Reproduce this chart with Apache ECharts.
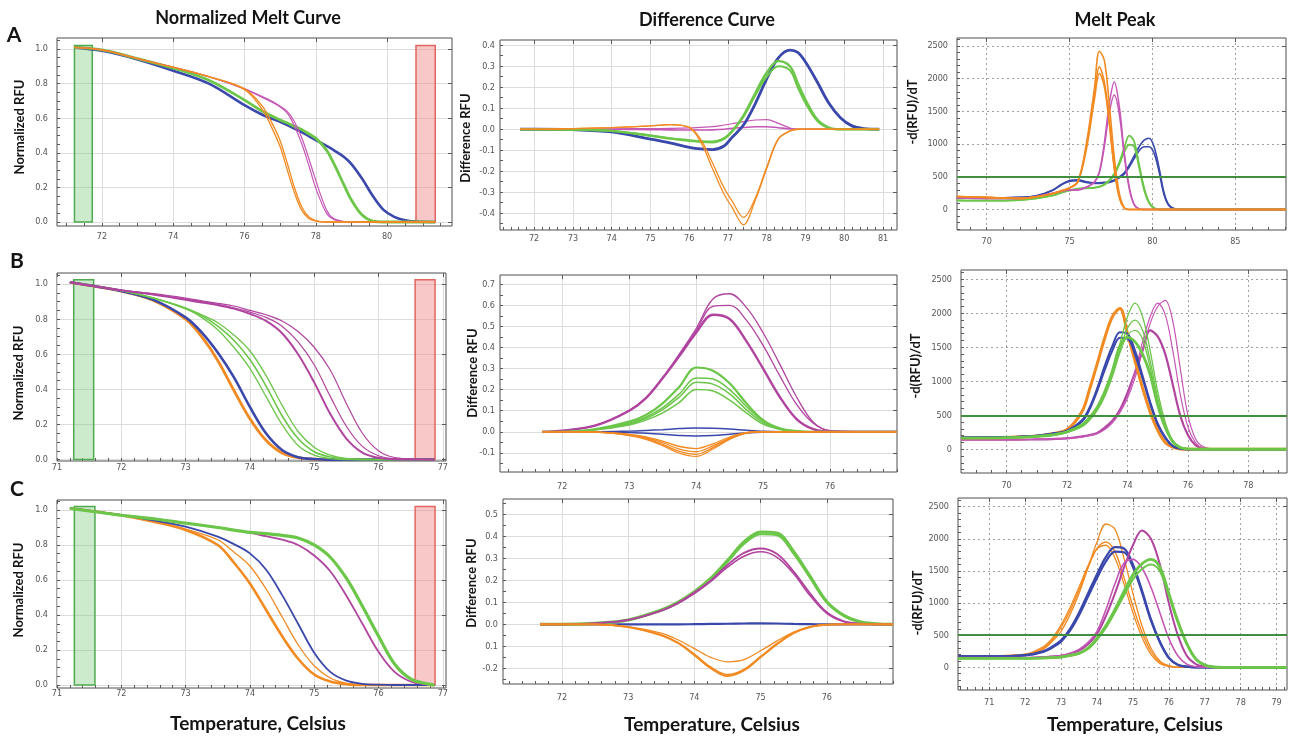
<!DOCTYPE html>
<html>
<head>
<meta charset="utf-8">
<title>Melt curves</title>
<script src="https://cdn.jsdelivr.net/npm/echarts@6.0.0/dist/echarts.min.js"></script>
<style>
  html, body { margin: 0; padding: 0; background: #fff; }
  #chart { width: 1290px; height: 738px; }
</style>
</head>
<body>
<div id="chart"></div>
<script>
// ---------- row A ----------
const a1Temp = [71.22, 72, 73, 74, 75, 76, 76.5, 76.8, 77, 77.2, 77.4, 77.6, 77.8, 78, 78.3, 78.5, 78.8, 79, 79.3, 79.6, 79.9, 80.2, 80.5, 80.8, 81.35];
const a1Orange1 = [1.01, 0.995, 0.945, 0.895, 0.84, 0.765, 0.65, 0.53, 0.435, 0.30, 0.17, 0.07, 0.02, 0.005, 0, 0, 0, 0, 0, 0, 0, 0, 0, 0, 0];
const a1Orange2 = [1.01, 0.995, 0.945, 0.895, 0.84, 0.77, 0.67, 0.56, 0.47, 0.34, 0.2, 0.09, 0.03, 0.008, 0, 0, 0, 0, 0, 0, 0, 0, 0, 0, 0];
const a1Magenta1 = [1.01, 0.995, 0.945, 0.895, 0.84, 0.77, 0.72, 0.69, 0.665, 0.63, 0.555, 0.455, 0.33, 0.195, 0.05, 0.015, 0, 0, 0, 0, 0, 0, 0, 0, 0];
const a1Magenta2 = [1.01, 0.995, 0.945, 0.895, 0.84, 0.77, 0.725, 0.695, 0.67, 0.64, 0.58, 0.49, 0.37, 0.24, 0.07, 0.02, 0.003, 0, 0, 0, 0, 0, 0, 0, 0];
const a1Green = [1.01, 0.995, 0.945, 0.89, 0.82, 0.705, 0.64, 0.61, 0.59, 0.572, 0.553, 0.535, 0.51, 0.485, 0.416, 0.34, 0.21, 0.127, 0.04, 0.005, 0, 0, 0, 0, 0];
const a1Blue = [1.01, 0.99, 0.94, 0.875, 0.80, 0.676, 0.62, 0.595, 0.58, 0.56, 0.54, 0.52, 0.497, 0.474, 0.44, 0.416, 0.375, 0.335, 0.25, 0.15, 0.07, 0.03, 0.01, 0.003, 0];
const a1Windows = [[71.23, 71.73], [80.81, 81.35]];

const a2Temp = [71.64, 72, 73, 74, 75, 75.5, 76, 76.3, 76.6, 76.9, 77.1, 77.4, 77.7, 78, 78.3, 78.6, 78.8, 79, 79.3, 79.6, 79.9, 80.2, 80.5, 80.9];
const a2Blue = [0, 0, -0.002, -0.013, -0.047, -0.065, -0.086, -0.094, -0.097, -0.08, -0.04, 0.02, 0.12, 0.24, 0.34, 0.377, 0.366, 0.32, 0.226, 0.125, 0.055, 0.016, 0.003, 0];
const a2Green1 = [0, 0, -0.002, -0.008, -0.031, -0.045, -0.055, -0.06, -0.062, -0.045, -0.012, 0.065, 0.17, 0.27, 0.325, 0.30, 0.22, 0.14, 0.047, 0.008, 0, 0, 0, 0];
const a2Green2 = [0, 0, -0.002, -0.008, -0.03, -0.043, -0.052, -0.057, -0.058, -0.042, -0.01, 0.06, 0.16, 0.25, 0.30, 0.28, 0.2, 0.125, 0.04, 0.006, 0, 0, 0, 0];
const a2Orange1 = [0, 0, 0.003, 0.008, 0.016, 0.022, 0.008, -0.062, -0.187, -0.31, -0.37, -0.455, -0.34, -0.187, -0.047, -0.008, 0, 0, 0, 0, 0, 0, 0, 0];
const a2Orange2 = [0, 0, 0.003, 0.008, 0.016, 0.022, 0.01, -0.05, -0.16, -0.28, -0.34, -0.42, -0.33, -0.18, -0.045, -0.008, 0, 0, 0, 0, 0, 0, 0, 0];
const a2Magenta1 = [0, 0, 0, 0.002, 0.003, 0.004, 0.006, 0.009, 0.012, 0.02, 0.026, 0.036, 0.044, 0.046, 0.028, 0.006, 0, 0, 0, 0, 0, 0, 0, 0];
const a2Magenta2 = [0, 0, 0, 0, -0.002, -0.003, -0.004, -0.004, -0.003, 0, 0.004, 0.008, 0.012, 0.012, 0.007, 0.002, 0, 0, 0, 0, 0, 0, 0, 0];

const a3Temp = [68.2, 70, 72, 73, 74, 74.5, 75, 75.5, 76, 76.5, 76.8, 77.1, 77.4, 77.7, 78, 78.3, 78.6, 78.9, 79.2, 79.5, 79.8, 80.1, 80.4, 80.7, 81, 81.5, 82, 88.06];
const a3Blue1 = [185, 175, 185, 210, 300, 385, 445, 455, 425, 410, 410, 415, 425, 450, 500, 560, 680, 820, 960, 1060, 1090, 960, 640, 260, 70, 5, 0, 0];
const a3Blue2 = [185, 175, 185, 210, 295, 375, 430, 440, 415, 400, 400, 405, 415, 440, 485, 540, 650, 780, 900, 960, 960, 860, 580, 230, 60, 5, 0, 0];
const a3Orange1 = [200, 185, 170, 195, 245, 285, 330, 430, 980, 1850, 2420, 2280, 1600, 800, 250, 30, 0, 0, 0, 0, 0, 0, 0, 0, 0, 0, 0, 0];
const a3Orange2 = [200, 185, 170, 195, 245, 285, 330, 420, 950, 1750, 2180, 1950, 1350, 650, 200, 25, 0, 0, 0, 0, 0, 0, 0, 0, 0, 0, 0, 0];
const a3Orange3 = [200, 185, 170, 195, 245, 285, 330, 420, 900, 1680, 2080, 1880, 1300, 620, 180, 20, 0, 0, 0, 0, 0, 0, 0, 0, 0, 0, 0, 0];
const a3Magenta1 = [175, 170, 170, 200, 250, 280, 300, 300, 340, 420, 580, 1020, 1620, 1950, 1580, 880, 350, 80, 10, 0, 0, 0, 0, 0, 0, 0, 0, 0];
const a3Magenta2 = [175, 170, 170, 200, 250, 280, 300, 300, 340, 415, 560, 960, 1480, 1750, 1460, 820, 320, 70, 8, 0, 0, 0, 0, 0, 0, 0, 0, 0];
const a3Green1 = [140, 135, 145, 170, 215, 260, 295, 320, 330, 335, 350, 385, 450, 550, 720, 940, 1130, 1040, 680, 330, 110, 25, 0, 0, 0, 0, 0, 0];
const a3Green2 = [140, 135, 145, 170, 215, 255, 290, 315, 325, 330, 345, 380, 440, 530, 690, 880, 990, 960, 640, 300, 100, 20, 0, 0, 0, 0, 0, 0];

// ---------- row B ----------
const b1Temp = [71.2, 72, 72.5, 73, 73.25, 73.5, 73.75, 74, 74.25, 74.5, 74.75, 75, 75.25, 75.5, 75.75, 76, 76.25, 76.87];
const b1Orange = [1.01, 0.96, 0.907, 0.80, 0.70, 0.565, 0.395, 0.233, 0.11, 0.038, 0.011, 0.003, 0, 0, 0, 0, 0, 0];
const b1Blue = [1.01, 0.96, 0.91, 0.81, 0.725, 0.61, 0.47, 0.30, 0.15, 0.055, 0.014, 0.003, 0, 0, 0, 0, 0, 0];
const b1Green1 = [1.01, 0.963, 0.92, 0.86, 0.81, 0.74, 0.64, 0.52, 0.36, 0.2, 0.08, 0.025, 0.006, 0, 0, 0, 0, 0];
const b1Green2 = [1.01, 0.963, 0.92, 0.86, 0.82, 0.76, 0.68, 0.57, 0.42, 0.25, 0.12, 0.045, 0.015, 0.004, 0, 0, 0, 0];
const b1Green3 = [1.01, 0.963, 0.92, 0.865, 0.825, 0.78, 0.71, 0.62, 0.48, 0.31, 0.16, 0.07, 0.025, 0.007, 0.002, 0, 0, 0];
const b1Magenta1 = [1.01, 0.965, 0.94, 0.91, 0.895, 0.88, 0.86, 0.83, 0.79, 0.72, 0.60, 0.44, 0.26, 0.12, 0.04, 0.01, 0.002, 0];
const b1Magenta2 = [1.01, 0.965, 0.94, 0.915, 0.9, 0.885, 0.865, 0.84, 0.81, 0.76, 0.67, 0.54, 0.36, 0.19, 0.075, 0.022, 0.005, 0];
const b1Magenta3 = [1.01, 0.965, 0.945, 0.92, 0.905, 0.89, 0.875, 0.85, 0.825, 0.79, 0.73, 0.64, 0.51, 0.32, 0.15, 0.05, 0.012, 0];
const b1Windows = [[71.26, 71.57], [76.57, 76.88]];

const b2Temp = [71.7, 72, 72.5, 73, 73.25, 73.5, 73.75, 74, 74.25, 74.5, 74.75, 75, 75.25, 75.5, 75.75, 76, 76.5, 77];
const b2Magenta1 = [0, 0.005, 0.03, 0.10, 0.16, 0.255, 0.36, 0.47, 0.555, 0.535, 0.43, 0.30, 0.165, 0.06, 0.012, 0, 0, 0];
const b2Magenta2 = [0, 0.005, 0.03, 0.10, 0.16, 0.255, 0.365, 0.48, 0.595, 0.6, 0.53, 0.41, 0.265, 0.13, 0.04, 0.005, 0, 0];
const b2Magenta3 = [0, 0.005, 0.03, 0.10, 0.16, 0.255, 0.37, 0.49, 0.63, 0.655, 0.59, 0.47, 0.32, 0.165, 0.045, 0.005, 0, 0];
const b2Green1 = [0, 0, 0.013, 0.048, 0.08, 0.135, 0.214, 0.305, 0.29, 0.23, 0.135, 0.055, 0.016, 0.003, 0, 0, 0, 0];
const b2Green2 = [0, 0, 0.011, 0.04, 0.07, 0.115, 0.18, 0.255, 0.25, 0.2, 0.12, 0.05, 0.015, 0.003, 0, 0, 0, 0];
const b2Green3 = [0, 0, 0.01, 0.037, 0.063, 0.105, 0.165, 0.235, 0.226, 0.18, 0.105, 0.043, 0.013, 0.002, 0, 0, 0, 0];
const b2Green4 = [0, 0, 0.009, 0.032, 0.055, 0.09, 0.14, 0.2, 0.193, 0.15, 0.09, 0.036, 0.011, 0.002, 0, 0, 0, 0];
const b2Blue1 = [0, 0, 0, 0.003, 0.006, 0.01, 0.015, 0.018, 0.017, 0.013, 0.007, 0.002, 0, 0, 0, 0, 0, 0];
const b2Blue2 = [0, 0, 0, -0.003, -0.007, -0.012, -0.018, -0.02, -0.018, -0.012, -0.006, -0.002, 0, 0, 0, 0, 0, 0];
const b2Orange1 = [0, 0, -0.002, -0.018, -0.036, -0.066, -0.102, -0.117, -0.082, -0.036, -0.007, 0, 0, 0, 0, 0, 0, 0];
const b2Orange2 = [0, 0, -0.002, -0.016, -0.032, -0.06, -0.093, -0.107, -0.075, -0.033, -0.006, 0, 0, 0, 0, 0, 0, 0];
const b2Orange3 = [0, 0, -0.002, -0.014, -0.028, -0.052, -0.082, -0.095, -0.067, -0.03, -0.005, 0, 0, 0, 0, 0, 0, 0];
const b2Orange4 = [0, 0, -0.001, -0.012, -0.024, -0.045, -0.07, -0.08, -0.057, -0.025, -0.004, 0, 0, 0, 0, 0, 0, 0];

const b3Temp = [68.5, 70, 71, 71.5, 72, 72.5, 72.75, 73, 73.25, 73.5, 73.75, 74, 74.25, 74.5, 74.75, 75, 75.25, 75.5, 75.75, 76, 76.25, 76.5, 77, 79.28];
const b3Orange = [170, 175, 195, 230, 290, 560, 890, 1260, 1640, 1950, 2070, 1700, 1300, 900, 550, 280, 100, 30, 5, 0, 0, 0, 0, 0];
const b3Blue1 = [175, 180, 200, 230, 275, 430, 620, 900, 1230, 1520, 1720, 1700, 1450, 1080, 700, 380, 180, 50, 10, 0, 0, 0, 0, 0];
const b3Blue2 = [175, 180, 200, 230, 270, 410, 590, 860, 1170, 1450, 1640, 1630, 1390, 1040, 670, 360, 165, 45, 8, 0, 0, 0, 0, 0];
const b3Green1 = [165, 170, 190, 210, 255, 360, 470, 620, 850, 1150, 1520, 1645, 1580, 1400, 1100, 650, 320, 110, 25, 5, 0, 0, 0, 0];
const b3Green2 = [165, 170, 185, 205, 250, 340, 440, 590, 820, 1130, 1550, 1950, 2150, 1950, 1450, 850, 400, 130, 30, 5, 0, 0, 0, 0];
const b3Green3 = [165, 170, 185, 205, 250, 340, 440, 580, 800, 1100, 1450, 1780, 1900, 1750, 1300, 760, 360, 120, 25, 5, 0, 0, 0, 0];
const b3Green4 = [165, 170, 185, 205, 250, 335, 430, 570, 780, 1070, 1420, 1680, 1750, 1620, 1200, 700, 330, 110, 20, 3, 0, 0, 0, 0];
const b3Magenta1 = [140, 140, 145, 150, 160, 190, 210, 240, 320, 420, 580, 830, 1130, 1450, 1750, 1660, 1400, 950, 490, 210, 60, 15, 0, 0];
const b3Magenta2 = [140, 140, 145, 150, 160, 185, 205, 235, 300, 400, 560, 780, 1150, 1580, 1950, 2150, 1980, 1450, 800, 330, 100, 20, 0, 0];
const b3Magenta3 = [140, 140, 145, 150, 160, 180, 200, 230, 290, 390, 540, 750, 1050, 1450, 1850, 2100, 2190, 1880, 1180, 500, 160, 40, 0, 0];

// ---------- row C ----------
const c1Temp = [71.2, 72, 72.5, 73, 73.5, 73.75, 74, 74.25, 74.5, 74.75, 75, 75.25, 75.5, 75.75, 76, 76.25, 76.5, 76.75, 76.87];
const c1Orange1 = [1.01, 0.97, 0.933, 0.886, 0.80, 0.70, 0.58, 0.43, 0.28, 0.15, 0.06, 0.02, 0.005, 0, 0, 0, 0, 0, 0];
const c1Orange2 = [1.01, 0.97, 0.935, 0.89, 0.83, 0.76, 0.68, 0.55, 0.39, 0.23, 0.11, 0.04, 0.01, 0.002, 0, 0, 0, 0, 0];
const c1Blue = [1.01, 0.97, 0.94, 0.905, 0.848, 0.805, 0.752, 0.66, 0.515, 0.35, 0.185, 0.075, 0.025, 0.007, 0.002, 0, 0, 0, 0];
const c1Magenta = [1.01, 0.97, 0.95, 0.925, 0.9, 0.885, 0.87, 0.85, 0.83, 0.80, 0.74, 0.65, 0.51, 0.35, 0.19, 0.075, 0.02, 0.004, 0];
const c1Green = [1.01, 0.97, 0.95, 0.925, 0.9, 0.885, 0.872, 0.865, 0.855, 0.84, 0.80, 0.73, 0.61, 0.45, 0.28, 0.12, 0.035, 0.007, 0];
const c1Windows = [[71.27, 71.59], [76.57, 76.88]];

const c2Temp = [71.67, 72, 72.5, 73, 73.5, 73.75, 74, 74.25, 74.5, 74.75, 75, 75.25, 75.5, 75.75, 76, 76.25, 76.5, 76.75, 77];
const c2Green1 = [0, 0, 0.005, 0.02, 0.065, 0.1, 0.148, 0.21, 0.29, 0.375, 0.42, 0.415, 0.33, 0.217, 0.103, 0.042, 0.012, 0.003, 0];
const c2Green2 = [0, 0, 0.005, 0.02, 0.063, 0.097, 0.145, 0.205, 0.283, 0.365, 0.41, 0.405, 0.32, 0.21, 0.1, 0.04, 0.011, 0.003, 0];
const c2Magenta1 = [0, 0, 0.005, 0.02, 0.063, 0.097, 0.145, 0.2, 0.27, 0.325, 0.345, 0.32, 0.24, 0.14, 0.055, 0.015, 0.003, 0, 0];
const c2Magenta2 = [0, 0, 0.005, 0.02, 0.062, 0.095, 0.14, 0.195, 0.26, 0.31, 0.33, 0.305, 0.23, 0.13, 0.05, 0.013, 0.003, 0, 0];
const c2Orange1 = [0, 0, 0, -0.012, -0.05, -0.085, -0.14, -0.2, -0.235, -0.21, -0.15, -0.09, -0.04, -0.012, -0.002, 0, 0, 0, 0];
const c2Orange2 = [0, 0, 0, -0.012, -0.048, -0.082, -0.135, -0.195, -0.228, -0.205, -0.146, -0.087, -0.038, -0.011, -0.002, 0, 0, 0, 0];
const c2Orange3 = [0, 0, 0, -0.01, -0.04, -0.07, -0.11, -0.15, -0.17, -0.16, -0.12, -0.075, -0.035, -0.01, 0, 0, 0, 0, 0];
const c2Blue = [0, 0, 0, 0, 0, 0, 0.001, 0.002, 0.003, 0.004, 0.005, 0.004, 0.002, 0.001, 0, 0, 0, 0, 0];

const c3Temp = [70.13, 71, 72, 72.5, 72.75, 73, 73.25, 73.5, 73.75, 74, 74.25, 74.5, 74.75, 75, 75.25, 75.5, 75.75, 76, 76.25, 76.5, 76.75, 77, 77.25, 77.5, 79.29];
const c3Orange1 = [180, 180, 200, 300, 420, 620, 880, 1200, 1550, 1850, 1950, 1800, 1400, 950, 550, 250, 80, 20, 0, 0, 0, 0, 0, 0, 0];
const c3Orange2 = [180, 180, 195, 280, 400, 560, 820, 1150, 1550, 1950, 2230, 2150, 1700, 1150, 650, 300, 100, 25, 0, 0, 0, 0, 0, 0, 0];
const c3Orange3 = [180, 180, 205, 320, 450, 660, 930, 1250, 1580, 1840, 1900, 1700, 1300, 850, 470, 200, 60, 15, 0, 0, 0, 0, 0, 0, 0];
const c3Blue1 = [170, 170, 190, 250, 320, 420, 600, 850, 1150, 1450, 1720, 1870, 1850, 1600, 1200, 750, 400, 150, 40, 10, 0, 0, 0, 0, 0];
const c3Blue2 = [170, 170, 185, 240, 305, 400, 570, 810, 1100, 1390, 1650, 1800, 1790, 1560, 1170, 730, 390, 145, 38, 10, 0, 0, 0, 0, 0];
const c3Magenta1 = [150, 150, 150, 160, 170, 180, 215, 260, 360, 520, 800, 1150, 1550, 1900, 2130, 2000, 1600, 1000, 500, 180, 50, 10, 0, 0, 0];
const c3Magenta2 = [150, 150, 150, 160, 170, 185, 220, 280, 390, 560, 900, 1300, 1620, 1680, 1550, 1250, 850, 450, 180, 50, 10, 0, 0, 0, 0];
const c3Green1 = [140, 140, 140, 145, 150, 160, 185, 220, 300, 450, 650, 900, 1180, 1440, 1610, 1680, 1560, 1150, 720, 370, 130, 35, 5, 0, 0];
const c3Green2 = [140, 140, 140, 145, 150, 160, 180, 210, 285, 430, 620, 860, 1120, 1370, 1530, 1600, 1500, 1120, 700, 360, 125, 32, 5, 0, 0];

const peakThreshold = 500;

// tick labels
const normTicks = [0, 0.2, 0.4, 0.6, 0.8, 1.0];
const peakTicks = [0, 500, 1000, 1500, 2000, 2500];
const a1TempTicks = [72, 74, 76, 78, 80];
const a2TempTicks = [72, 73, 74, 75, 76, 77, 78, 79, 80, 81];
const a2DiffTicks = [-0.4, -0.3, -0.2, -0.1, 0, 0.1, 0.2, 0.3, 0.4];
const a3TempTicks = [70, 75, 80, 85];
const bc1TempTicks = [71, 72, 73, 74, 75, 76, 77];
const bc2TempTicks = [72, 73, 74, 75, 76];
const b2DiffTicks = [-0.1, 0, 0.1, 0.2, 0.3, 0.4, 0.5, 0.6, 0.7];
const b3TempTicks = [70, 72, 74, 76, 78];
const c2DiffTicks = [-0.2, -0.1, 0, 0.1, 0.2, 0.3, 0.4, 0.5];
const c3TempTicks = [71, 72, 73, 74, 75, 76, 77, 78, 79];

const ORANGE = '#f28a22', BLUE = '#3a48ab', GREEN = '#6cc649', MAGENTA = '#b0449f', PINK = '#c557b6';
const tickFont = 'Liberation Sans Narrow, DejaVu Sans Condensed, sans-serif';
const boldFont = 'Lato, Open Sans, sans-serif';

function steps(a, b, s) {
  const out = [];
  for (let v = a; v <= b + 1e-9; v += s) out.push(+v.toFixed(4));
  return out;
}

const panels = [
  { box: [57, 38, 395, 188], x: [70.74, 81.82], y: [-0.023, 1.064], xt: a1TempTicks, xm: steps(71, 81.5, 0.5), yt: normTicks, ym: steps(0, 1.05, 0.05), dec: 1, xm0: 6, ym0: 9 },
  { box: [500, 40, 397, 190], x: [71.12, 81.36], y: [-0.48, 0.425], xt: a2TempTicks, xm: steps(71.2, 81.2, 0.2), yt: a2DiffTicks, ym: steps(-0.45, 0.4, 0.05), dec: 1, xm0: 4, ym0: 5 },
  { box: [957, 38, 329, 192], x: [68.21, 88.06], y: [-313, 2622], xt: a3TempTicks, xm: steps(69, 88, 1), yt: peakTicks, ym: steps(-300, 2600, 100), dec: 0, dotted: true, xm0: 7, ym0: 9 },
  { box: [57, 273, 389, 188], x: [71, 77.05], y: [-0.008, 1.063], xt: bc1TempTicks, xm: steps(71, 77, 0.2), yt: normTicks, ym: steps(0, 1.05, 0.05), dec: 1, xm0: 2, ym0: 9 },
  { box: [500, 275, 397, 197], x: [71.07, 77.0], y: [-0.191, 0.744], xt: bc2TempTicks, xm: steps(71.2, 77, 0.2), yt: b2DiffTicks, ym: steps(-0.15, 0.7, 0.05), dec: 1, xm0: 10, ym0: 5 },
  { box: [961, 270, 326, 203], x: [68.49, 79.28], y: [-349, 2637], xt: b3TempTicks, xm: steps(69, 79, 0.5), yt: peakTicks, ym: steps(-300, 2600, 100), dec: 0, dotted: true, xm0: 8, ym0: 9 },
  { box: [57, 500, 389, 188], x: [71, 77.05], y: [-0.017, 1.057], xt: bc1TempTicks, xm: steps(71, 77, 0.2), yt: normTicks, ym: steps(0, 1.05, 0.05), dec: 1, xm0: 1, ym0: 9 },
  { box: [503, 499, 390, 185], x: [71.11, 77.0], y: [-0.271, 0.57], xt: bc2TempTicks, xm: steps(71.2, 77, 0.2), yt: c2DiffTicks, ym: steps(-0.25, 0.55, 0.05), dec: 1, xm0: 9, ym0: 5, noMinus: true },
  { box: [958, 498, 329, 192], x: [70.13, 79.29], y: [-353, 2635], xt: c3TempTicks, xm: steps(70.2, 79.2, 0.2), yt: peakTicks, ym: steps(-300, 2600, 100), dec: 0, dotted: true, xm0: 8, ym0: 9 }
];

const grid = [], xAxis = [], yAxis = [];
panels.forEach((p, i) => {
  grid.push({
    left: p.box[0], top: p.box[1], width: p.box[2], height: p.box[3],
    show: true, borderColor: '#4e4e4e', borderWidth: 1,
    containLabel: false, outerBoundsMode: 'none'
  });
  const split = {
    show: true,
    lineStyle: { color: p.dotted ? '#a0a0a0' : '#dcdcdc', width: 1, type: p.dotted ? [2, 3] : 'solid' }
  };
  const tickLine = { color: '#5a5a5a', width: 1 };
  const labelStyle = { fontSize: 9, color: '#555', fontFamily: tickFont };
  xAxis.push({
    type: 'value', gridIndex: i, position: 'bottom', min: p.x[0], max: p.x[1],
    axisLine: { show: false, onZero: false },
    axisTick: { show: true, inside: true, length: 3, customValues: p.xm, lineStyle: tickLine },
    axisLabel: Object.assign({ customValues: p.xt, margin: p.xm0, formatter: v => String(v) }, labelStyle),
    splitLine: { show: false }
  });
  xAxis.push({
    type: 'value', gridIndex: i, position: 'top', min: p.x[0], max: p.x[1],
    axisLine: { show: false, onZero: false },
    axisTick: { show: true, inside: true, length: 4, customValues: p.xt, lineStyle: tickLine },
    axisLabel: { show: false },
    splitLine: split
  });
  yAxis.push({
    type: 'value', gridIndex: i, position: 'left', min: p.y[0], max: p.y[1],
    axisLine: { show: false, onZero: false },
    axisTick: { show: true, inside: true, length: 3, customValues: p.ym, lineStyle: tickLine },
    axisLabel: Object.assign({
      customValues: p.yt, margin: p.ym0,
      formatter: v => {
        let s = p.dec ? v.toFixed(p.dec) : String(Math.round(v));
        if (p.noMinus && Math.abs(v + 0.1) < 1e-6) s = '0.1';
        return s;
      }
    }, labelStyle),
    splitLine: { show: false }
  });
  yAxis.push({
    type: 'value', gridIndex: i, position: 'right', min: p.y[0], max: p.y[1],
    axisLine: { show: false, onZero: false },
    axisTick: { show: true, inside: true, length: 4, customValues: p.yt, lineStyle: tickLine },
    axisLabel: { show: false },
    splitLine: split
  });
});

function curve(pi, xs, ys, color, width) {
  const n = Math.min(xs.length, ys.length);
  const data = [];
  for (let i = 0; i < n; i++) data.push([xs[i], ys[i]]);
  return {
    type: 'line', xAxisIndex: pi * 2, yAxisIndex: pi * 2, data,
    showSymbol: false, symbol: 'none', smooth: 0.35, silent: true, animation: false,
    lineStyle: { color, width }, itemStyle: { color }, z: 3
  };
}

function windows(pi, w, top) {
  const green = { color: 'rgba(120, 200, 120, 0.38)', borderColor: '#4faa4f', borderWidth: 1.5 };
  const red = { color: 'rgba(240, 130, 130, 0.45)', borderColor: '#e2665f', borderWidth: 1.5 };
  return {
    type: 'line', xAxisIndex: pi * 2, yAxisIndex: pi * 2, data: [], silent: true, animation: false, z: 4,
    markArea: {
      silent: true,
      data: [
        [{ xAxis: w[0][0], yAxis: 0, itemStyle: green }, { xAxis: w[0][1], yAxis: top }],
        [{ xAxis: w[1][0], yAxis: 0, itemStyle: red }, { xAxis: w[1][1], yAxis: top }]
      ]
    }
  };
}

function threshold(pi) {
  return {
    type: 'line', xAxisIndex: pi * 2, yAxisIndex: pi * 2, data: [], silent: true, animation: false, z: 5,
    markLine: {
      silent: true, symbol: 'none', label: { show: false },
      lineStyle: { color: '#3f8f3f', width: 2, type: 'solid' },
      data: [{ yAxis: peakThreshold }]
    }
  };
}

const series = [
  // A
  curve(0, a1Temp, a1Blue, BLUE, 2.6), curve(0, a1Temp, a1Green, GREEN, 2.8),
  curve(0, a1Temp, a1Magenta1, PINK, 1.2), curve(0, a1Temp, a1Magenta2, PINK, 1.2),
  curve(0, a1Temp, a1Orange1, ORANGE, 1.3), curve(0, a1Temp, a1Orange2, ORANGE, 1.3),
  windows(0, a1Windows, 1.02),
  curve(1, a2Temp, a2Magenta2, PINK, 1.6), curve(1, a2Temp, a2Magenta1, PINK, 1.2),
  curve(1, a2Temp, a2Blue, BLUE, 2.8), curve(1, a2Temp, a2Green2, GREEN, 2), curve(1, a2Temp, a2Green1, GREEN, 2.4),
  curve(1, a2Temp, a2Orange1, ORANGE, 1.3), curve(1, a2Temp, a2Orange2, ORANGE, 1.3),
  curve(2, a3Temp, a3Blue1, BLUE, 1.6), curve(2, a3Temp, a3Blue2, BLUE, 1.6),
  curve(2, a3Temp, a3Green1, GREEN, 1.8), curve(2, a3Temp, a3Green2, GREEN, 1.8),
  curve(2, a3Temp, a3Magenta1, PINK, 1.5), curve(2, a3Temp, a3Magenta2, PINK, 1.5),
  curve(2, a3Temp, a3Orange1, ORANGE, 1.6), curve(2, a3Temp, a3Orange2, ORANGE, 1.6), curve(2, a3Temp, a3Orange3, ORANGE, 1.6),
  threshold(2),
  // B
  curve(3, b1Temp, b1Orange, ORANGE, 2.8), curve(3, b1Temp, b1Blue, BLUE, 2.6),
  curve(3, b1Temp, b1Green1, GREEN, 1.3), curve(3, b1Temp, b1Green2, GREEN, 1.6), curve(3, b1Temp, b1Green3, GREEN, 1.3),
  curve(3, b1Temp, b1Magenta1, MAGENTA, 2), curve(3, b1Temp, b1Magenta2, MAGENTA, 1.2), curve(3, b1Temp, b1Magenta3, MAGENTA, 1.2),
  windows(3, b1Windows, 1.025),
  curve(4, b2Temp, b2Magenta1, MAGENTA, 2.4), curve(4, b2Temp, b2Magenta2, MAGENTA, 1.3), curve(4, b2Temp, b2Magenta3, MAGENTA, 1.3),
  curve(4, b2Temp, b2Green1, GREEN, 2.2), curve(4, b2Temp, b2Green2, GREEN, 1.5), curve(4, b2Temp, b2Green3, GREEN, 1.5), curve(4, b2Temp, b2Green4, GREEN, 1.5),
  curve(4, b2Temp, b2Blue1, BLUE, 1.5), curve(4, b2Temp, b2Blue2, BLUE, 1.5),
  curve(4, b2Temp, b2Orange1, ORANGE, 1.3), curve(4, b2Temp, b2Orange2, ORANGE, 1.3), curve(4, b2Temp, b2Orange3, ORANGE, 1.3), curve(4, b2Temp, b2Orange4, ORANGE, 1.3),
  curve(5, b3Temp, b3Magenta1, MAGENTA, 2.2), curve(5, b3Temp, b3Magenta2, PINK, 1.2), curve(5, b3Temp, b3Magenta3, PINK, 1.2),
  curve(5, b3Temp, b3Orange, ORANGE, 3), curve(5, b3Temp, b3Blue1, BLUE, 2), curve(5, b3Temp, b3Blue2, BLUE, 2),
  curve(5, b3Temp, b3Green1, GREEN, 2.8), curve(5, b3Temp, b3Green2, GREEN, 1.3), curve(5, b3Temp, b3Green3, GREEN, 1.3), curve(5, b3Temp, b3Green4, GREEN, 1.3),
  threshold(5),
  // C
  curve(6, c1Temp, c1Orange1, ORANGE, 2.6), curve(6, c1Temp, c1Orange2, ORANGE, 1.3),
  curve(6, c1Temp, c1Blue, BLUE, 1.8), curve(6, c1Temp, c1Magenta, MAGENTA, 1.8), curve(6, c1Temp, c1Green, GREEN, 3.2),
  windows(6, c1Windows, 1.02),
  curve(7, c2Temp, c2Blue, BLUE, 2.2),
  curve(7, c2Temp, c2Green1, GREEN, 3.2), curve(7, c2Temp, c2Green2, GREEN, 2),
  curve(7, c2Temp, c2Magenta1, MAGENTA, 1.8), curve(7, c2Temp, c2Magenta2, MAGENTA, 1.6),
  curve(7, c2Temp, c2Orange1, ORANGE, 1.8), curve(7, c2Temp, c2Orange2, ORANGE, 1.6), curve(7, c2Temp, c2Orange3, ORANGE, 1.3),
  curve(8, c3Temp, c3Orange1, ORANGE, 1.4), curve(8, c3Temp, c3Orange2, ORANGE, 1.3), curve(8, c3Temp, c3Orange3, ORANGE, 1.3),
  curve(8, c3Temp, c3Blue1, BLUE, 2.2), curve(8, c3Temp, c3Blue2, BLUE, 2.2),
  curve(8, c3Temp, c3Magenta1, MAGENTA, 2), curve(8, c3Temp, c3Magenta2, PINK, 1.6),
  curve(8, c3Temp, c3Green1, GREEN, 2.8), curve(8, c3Temp, c3Green2, GREEN, 2.2),
  threshold(8)
];

// headings, row letters, axis names
const headings = [
  ['Normalized Melt Curve', 248, 18, 18], ['Difference Curve', 707, 20, 18], ['Melt Peak', 1115, 20, 18],
  ['A', 14, 35, 21], ['B', 17, 261, 21], ['C', 17, 489, 21],
  ['Temperature, Celsius', 258, 724, 19], ['Temperature, Celsius', 712, 725, 19], ['Temperature, Celsius', 1135, 725, 19]
];
const yNames = [
  ['Normalized RFU', 20, 127], ['Difference RFU', 466, 138], ['-d(RFU)/dT', 913, 112],
  ['Normalized RFU', 19, 373], ['Difference RFU', 473, 373], ['-d(RFU)/dT', 916, 366],
  ['Normalized RFU', 19, 590], ['Difference RFU', 472, 583], ['-d(RFU)/dT', 918, 603]
];
const graphic = headings.map(h => ({
  type: 'text', x: h[1], y: h[2], silent: true,
  style: { text: h[0], font: 'bold ' + h[3] + 'px ' + boldFont, fill: '#141414', align: 'center', verticalAlign: 'middle' }
})).concat(yNames.map(n => ({
  type: 'text', x: n[1], y: n[2], rotation: Math.PI / 2, silent: true,
  style: { text: n[0], font: 'bold 13px ' + boldFont, fill: '#141414', align: 'center', verticalAlign: 'middle' }
})));

const chart = echarts.init(document.getElementById('chart'), null, { renderer: 'canvas' });
chart.setOption({
  backgroundColor: '#ffffff',
  animation: false,
  grid, xAxis, yAxis, series, graphic
});
</script>
</body>
</html>
